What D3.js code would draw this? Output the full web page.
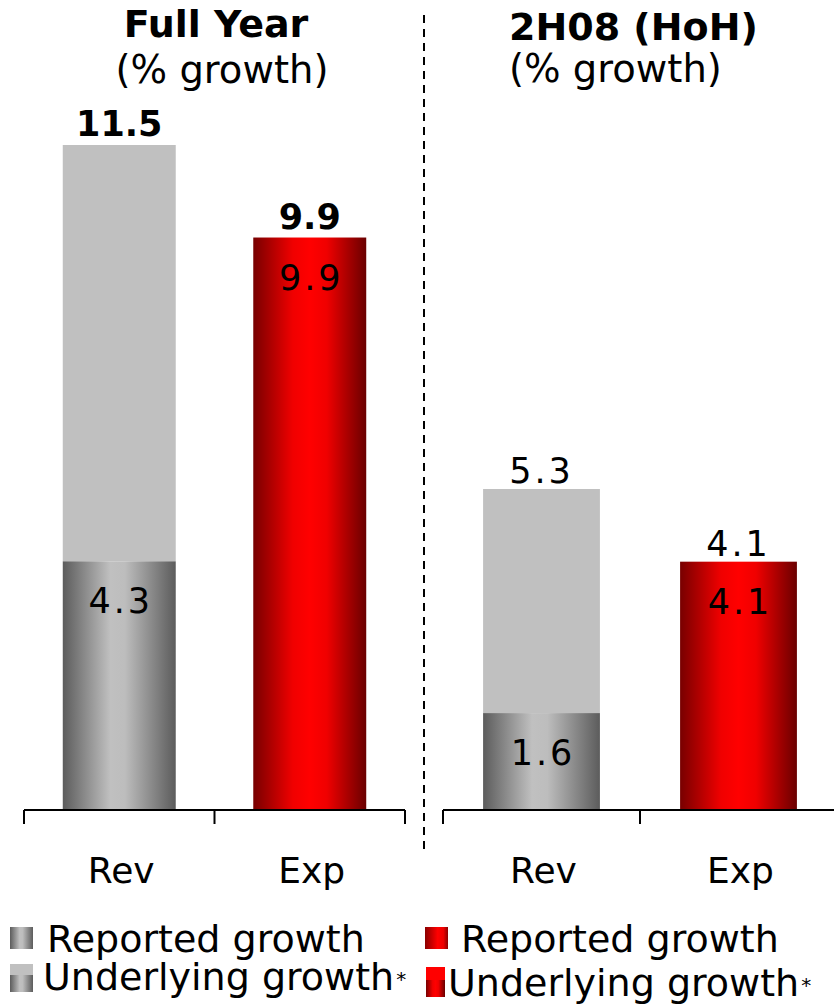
<!DOCTYPE html>
<html><head><meta charset="utf-8">
<script src="https://cdn.jsdelivr.net/npm/d3@7/dist/d3.min.js"></script>
<style>body{margin:0;background:#fff}svg{display:block}text{font-family:"DejaVu Sans",Verdana,sans-serif;fill:#000}</style>
</head><body><svg id="c" width="834" height="1005"></svg>
<script>
const categories = ["Rev", "Exp"];
const panelTitles = ["Full Year", "2H08 (HoH)"];
const panelSubtitles = ["(% growth)", "(% growth)"];
const reportedFY = [4.3, 9.9];
const underlyingFY = [11.5, 9.9];
const reported2H = [1.6, 4.1];
const underlying2H = [5.3, 4.1];
const legendLabels = ["Reported growth", "Underlying growth"];

const svg = d3.select("#c");
const defs = svg.append("defs");
function grad(id, stops) {
  const g = defs.append("linearGradient").attr("id", id).attr("x1", 0).attr("x2", 1).attr("y1", 0).attr("y2", 0);
  stops.forEach(s => g.append("stop").attr("offset", s[0]).attr("stop-color", s[1]));
}
grad("gGray", [[0, "#5c5c5c"], [0.42, "#c0c0c0"], [0.55, "#bdbdbd"], [1, "#5c5c5c"]]);
grad("gRed", [[0, "#780000"], [0.35, "#f00000"], [0.5, "#ff0000"], [0.65, "#f00000"], [1, "#6a0000"]]);
grad("gRedL", [[0, "#8a0000"], [0.55, "#ff0000"], [0.8, "#ee0000"], [1, "#8a0000"]]);

const base = 810;
const panels = [
  {rep: reportedFY, und: underlyingFY, xr: [24, 405], y: d3.scaleLinear().domain([0, 11.5]).range([base, 145]), boldTop: true, tx: 216, anchor: "middle", stx: 222},
  {rep: reported2H, und: underlying2H, xr: [443, 837], y: d3.scaleLinear().domain([0, 5.3]).range([base, 489]), boldTop: false, tx: 509, anchor: "start", stx: 509}
];

panels.forEach((p, pi) => {
  const x = d3.scaleBand().domain(categories).range(p.xr).paddingInner(0).paddingOuter(0);
  const bw = x.bandwidth() * 0.593;
  const g = svg.append("g");
  categories.forEach((c, i) => {
    const cx = x(c) + x.bandwidth() / 2;
    const isRev = i === 0;
    const fill = isRev ? "url(#gGray)" : "url(#gRed)";
    if (p.und[i] > p.rep[i]) {
      g.append("rect").attr("x", cx - bw / 2).attr("width", bw)
        .attr("y", p.y(p.und[i])).attr("height", p.y(p.rep[i]) - p.y(p.und[i]))
        .attr("fill", "#c0c0c0");
    }
    g.append("rect").attr("x", cx - bw / 2).attr("width", bw)
      .attr("y", p.y(p.rep[i])).attr("height", base - p.y(p.rep[i]))
      .attr("fill", fill);
    g.append("text").attr("x", cx).attr("y", p.y(p.und[i]) - (p.boldTop ? 9 : 6))
      .attr("text-anchor", "middle")
      .style("font-size", "35px")
      .style("font-weight", p.boldTop ? "bold" : "normal")
      .style("letter-spacing", p.boldTop ? "0px" : "3px")
      .text(p.und[i].toFixed(1));
    g.append("text").attr("x", cx + 1.5).attr("y", p.y(p.rep[i]) + 52)
      .attr("text-anchor", "middle")
      .style("font-size", "35px").style("letter-spacing", "3px")
      .text(p.rep[i].toFixed(1));
    g.append("text").attr("x", cx + 2).attr("y", 883).attr("text-anchor", "middle")
      .style("font-size", "36px").text(c);
  });
  g.append("line").attr("x1", p.xr[0]).attr("x2", p.xr[1]).attr("y1", base).attr("y2", base)
    .attr("stroke", "#000").attr("stroke-width", 2);
  const bounds = categories.map(c => x(c)).concat([x(categories[categories.length - 1]) + x.bandwidth()]);
  bounds.forEach(b => g.append("line").attr("x1", b).attr("x2", b).attr("y1", base).attr("y2", base + 14)
    .attr("stroke", "#000").attr("stroke-width", 2));
  g.append("text").attr("x", p.tx).attr("y", pi === 0 ? 37 : 40).attr("text-anchor", p.anchor)
    .style("font-size", "38px").style("font-weight", "bold").text(panelTitles[pi]);
  g.append("text").attr("x", p.stx).attr("y", pi === 0 ? 83 : 82).attr("text-anchor", p.anchor)
    .style("font-size", "38.5px").text(panelSubtitles[pi]);
});

svg.append("line").attr("x1", 424).attr("x2", 424).attr("y1", 15).attr("y2", 852)
  .attr("stroke", "#000").attr("stroke-width", 2).attr("stroke-dasharray", "8,6");

const lg = svg.append("g");
lg.append("rect").attr("x", 10).attr("y", 927).attr("width", 23).attr("height", 22).attr("fill", "url(#gGray)");
lg.append("rect").attr("x", 10).attr("y", 964).attr("width", 23).attr("height", 11).attr("fill", "#c0c0c0");
lg.append("rect").attr("x", 10).attr("y", 975).attr("width", 23).attr("height", 17).attr("fill", "url(#gGray)");
lg.append("rect").attr("x", 425).attr("y", 927).attr("width", 23).attr("height", 22).attr("fill", "url(#gRedL)");
lg.append("rect").attr("x", 426).attr("y", 967).attr("width", 19).attr("height", 13).attr("fill", "#ff0000");
lg.append("rect").attr("x", 426).attr("y", 980).attr("width", 19).attr("height", 17).attr("fill", "url(#gRed)");

const legendItems = [
  {x: 47, y: 952, t: legendLabels[0], star: false},
  {x: 43, y: 990, t: legendLabels[1], star: true},
  {x: 461, y: 952, t: legendLabels[0], star: false},
  {x: 448, y: 996, t: legendLabels[1], star: true}
];
legendItems.forEach(d => {
  const t = lg.append("text").attr("x", d.x).attr("y", d.y).style("font-size", "38px");
  t.append("tspan").text(d.t);
  if (d.star) t.append("tspan").style("font-size", "20px").attr("dy", -4).attr("dx", 2).text("*");
});
</script></body></html>
